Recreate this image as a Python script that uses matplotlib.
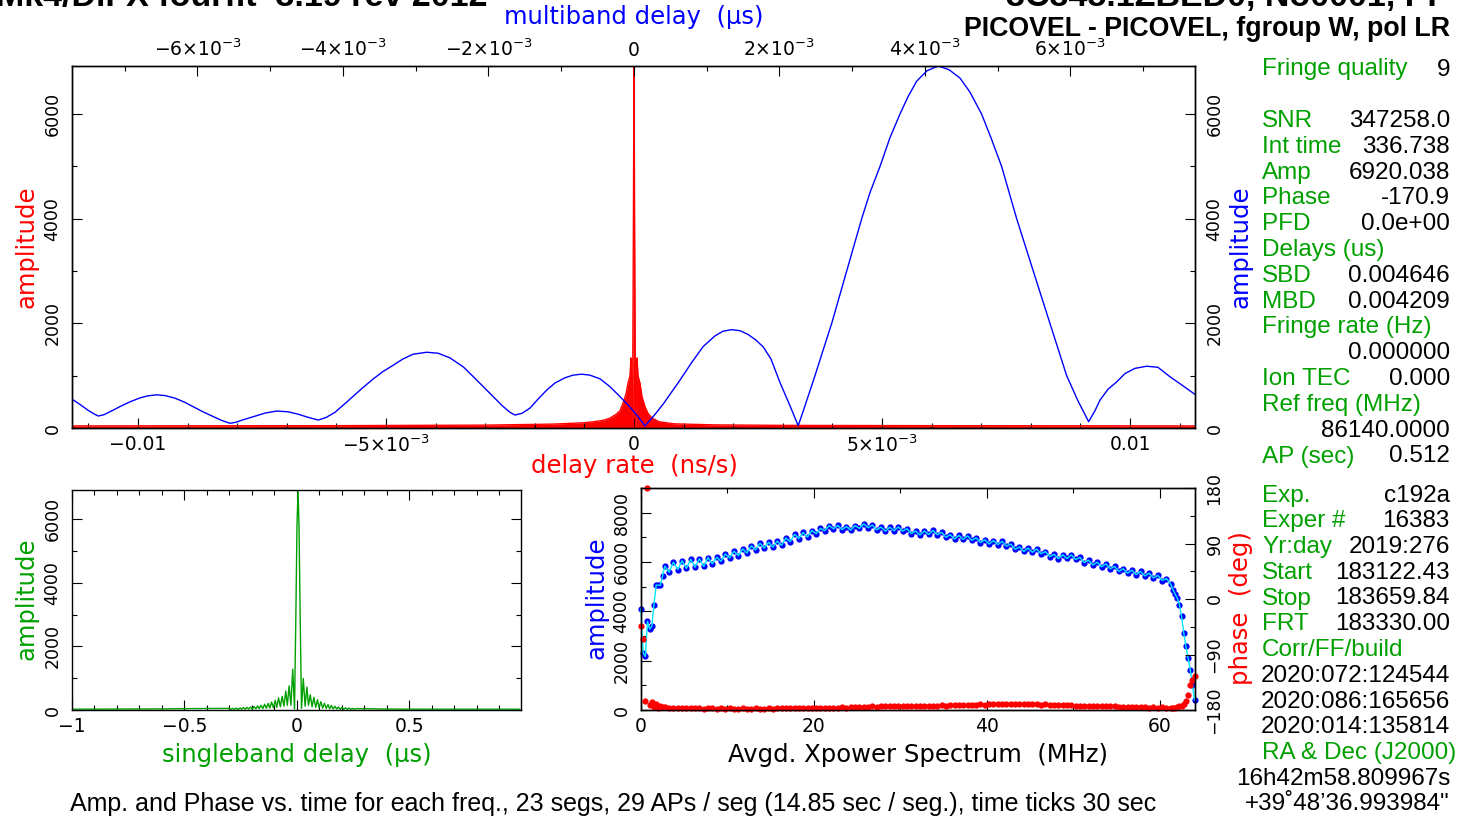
import numpy as np
import matplotlib
matplotlib.use('Agg')
import matplotlib.pyplot as plt
from matplotlib.ticker import MultipleLocator

# ---------------- data ----------------
# delay-rate function (red), delay rate in ns/s
rate_x = [-0.01133, -0.00605, -0.00302, -0.00161, -0.00101, -0.00081, -0.000605, -0.000484,
          -0.000363, -0.000282, -0.000222, -0.000161, -0.000121, -0.0000806, -0.0000605,
          -0.0000403, -0.00003, -0.000014, 0.0, 0.000014, 0.00003, 0.0000403, 0.0000605,
          0.0000806, 0.000121, 0.000161, 0.000222, 0.000282, 0.000363, 0.000504, 0.000806,
          0.00161, 0.00302, 0.00605, 0.01131]
rate_amp = [40, 45, 55, 75, 100, 120, 150, 190, 260, 330, 476, 650, 857, 1000, 1340, 200, 0,
            3500, 6920, 3500, 0, 200, 1340, 1000, 857, 600, 406, 280, 190, 120, 80, 60, 50, 45, 40]

# multiband delay function (blue), delay in microseconds
mbd_x = [-0.007725, -0.007615, -0.007505, -0.007423, -0.007364,
         -0.007285, -0.007175, -0.007065, -0.006928, -0.006791, -0.006681, -0.006561, -0.006447,
         -0.006309, -0.006172, -0.006058, -0.005925, -0.005801, -0.005677, -0.005553,
         -0.005471, -0.005388, -0.005233, -0.005072, -0.004911, -0.004756, -0.004619, -0.004481,
         -0.004340,
         -0.004234, -0.004110, -0.003945, -0.003766, -0.003601, -0.003450, -0.003309, -0.003175,
         -0.003038, -0.002850, -0.002694, -0.002529, -0.002346, -0.002172, -0.001979, -0.001814,
         -0.001705, -0.001636,
         -0.001540, -0.001430, -0.001320, -0.001200, -0.001086, -0.000948, -0.000839, -0.000719,
         -0.000605, -0.000467, -0.000330, -0.000192, -0.000055, 0.000055, 0.000151,
         0.000289, 0.000403, 0.000632, 0.000797, 0.000953, 0.001113, 0.001223, 0.001343,
         0.001457, 0.001567, 0.001677, 0.001777, 0.001883, 0.002007, 0.002131, 0.002258,
         0.002364, 0.002488, 0.002598, 0.002718, 0.002924, 0.003130, 0.003244, 0.003382,
         0.003519, 0.003656, 0.003766, 0.003886, 0.004028, 0.004183, 0.004330, 0.004481,
         0.004619, 0.004779, 0.004907, 0.005054, 0.005261, 0.005489, 0.005718, 0.005948,
         0.006103, 0.006250,
         0.006337, 0.006406, 0.006516, 0.006635, 0.006749, 0.006887, 0.007048, 0.007203,
         0.007368, 0.007533, 0.007712]
mbd_amp = [552, 450, 340, 270, 229,
           255, 330, 410, 500, 575, 615, 634, 620, 570, 490, 406, 310, 230, 150, 90,
           110, 150, 216, 285, 324, 310, 265, 205, 152,
           200, 300, 500, 724, 920, 1080, 1200, 1320, 1410, 1448, 1430, 1340, 1168, 930, 661,
           430, 300, 248,
           280, 380, 550, 724, 860, 960, 1010, 1029, 1010, 940, 790, 600, 400, 220, 38,
           260, 460, 914, 1260, 1560, 1760, 1850, 1880, 1860, 1790, 1680, 1549, 1320, 870, 470,
           44,
           480, 1000, 1480, 2000, 3000, 4000, 4500, 5000, 5550, 6000, 6330, 6630, 6830, 6920,
           6850, 6690, 6420, 6000, 5550, 5000, 4000, 3000, 2000, 1000, 520, 120,
           330, 533, 740, 880, 1040, 1140, 1181, 1160, 980, 820, 642]

# singleband delay function (green), microseconds
sbd_x = [-1.0, -0.8, -0.6, -0.45, -0.35, -0.300, -0.293, -0.285, -0.277, -0.269, -0.261, -0.253,
         -0.246, -0.238, -0.230, -0.222, -0.214, -0.206, -0.199, -0.191, -0.183, -0.175, -0.168,
         -0.160, -0.152, -0.144, -0.136, -0.128, -0.121, -0.113, -0.105, -0.097, -0.090, -0.082,
         -0.074, -0.066, -0.058, -0.050, -0.043, -0.035, -0.027, -0.019, -0.011, -0.005, 0.0,
         0.0046, 0.009, 0.014, 0.020, 0.028, 0.036, 0.044, 0.051, 0.059, 0.067, 0.075, 0.083,
         0.091, 0.098, 0.106, 0.114, 0.122, 0.130, 0.138, 0.145, 0.153, 0.161, 0.169, 0.177,
         0.184, 0.192, 0.200, 0.208, 0.216, 0.224, 0.231, 0.239, 0.247, 0.255, 0.263, 0.30,
         0.40, 0.60, 0.80, 0.99]
sbd_amp = [25, 30, 35, 45, 50, 50, 20, 55, 20, 60, 20, 65, 25, 75, 25, 85, 30, 95, 30, 110, 35,
           130, 40, 150, 45, 180, 55, 210, 60, 250, 70, 300, 80, 380, 100, 430, 120, 600, 150,
           760, 150, 1280, 30, 3000, 5800, 6920, 5800, 3000, 50, 990, 120, 720, 150, 480, 100,
           400, 80, 320, 70, 260, 60, 210, 50, 170, 40, 140, 35, 115, 30, 95, 25, 80, 25, 70, 20,
           60, 20, 50, 20, 45, 40, 30, 25, 25, 25]

# cross-power spectrum: frequency (MHz), amplitude, phase (deg)
freq = np.concatenate([np.arange(0, 2.51, 0.25), np.arange(2.75, 61.3, 0.5),
                       np.arange(61.5, 64.01, 0.25)])
spec_amp = [4095, 2305, 2170, 3590, 3280, 3400, 4270, 5060, 5060, 5060, 5450,
            5830, 5590, 5990, 5695, 6050, 5740, 6110, 5790, 6130, 5820,
            6180, 5930, 6190, 6030, 6320, 6165, 6435, 6260, 6530, 6365,
            6655, 6490, 6760, 6567, 6802, 6602, 6847, 6677, 6972, 6827,
            7122, 6952, 7197, 7012, 7277, 7147, 7362, 7272, 7477, 7347,
            7482, 7312, 7437, 7292, 7477, 7362, 7547, 7392, 7497, 7305,
            7415, 7250, 7410, 7267, 7422, 7250, 7350, 7152, 7257, 7092,
            7257, 7120, 7280, 7107, 7202, 7002, 7107, 6932, 7077, 6920,
            7060, 6880, 6980, 6787, 6902, 6730, 6870, 6705, 6835, 6642,
            6727, 6517, 6612, 6427, 6562, 6395, 6525, 6335, 6425, 6217,
            6312, 6137, 6292, 6142, 6287, 6102, 6187, 5977, 6072, 5877,
            5992, 5807, 5922, 5727, 5822, 5622, 5727, 5542, 5667, 5492,
            5617, 5435, 5545, 5352, 5457, 5250, 5330, 5100,
            4880, 4700, 4540, 4270, 3800, 3120, 2580, 2100, 1630, 1020, 410]
spec_phase = [-44, -65, -165, 180, -172, -167, -175, -171, -176, -173, -175,
              -175, -176, -176, -177, -176, -177, -177, -177, -177, -178,
              -177, -177, -178, -177, -178, -177, -178, -178, -177, -178,
              -178, -177, -178, -178, -177, -178, -177, -177, -177, -177,
              -177, -177, -176, -177, -176, -176, -176, -176, -176, -176,
              -176, -175, -176, -175, -175, -175, -175, -175, -174, -175,
              -174, -174, -174, -174, -174, -174, -173, -174, -173, -173,
              -173, -173, -173, -173, -172, -173, -172, -172, -172, -172,
              -172, -172, -172, -171, -172, -171, -171, -171, -171, -171,
              -171, -171, -171, -171, -171, -171, -171, -172, -171, -172,
              -172, -172, -172, -172, -172, -173, -173, -173, -173, -173,
              -174, -174, -174, -174, -174, -175, -175, -175, -175, -175,
              -175, -175, -176, -175, -176, -175, -176, -176,
              -176, -176, -175, -174, -173, -170, -165, -155, -140, -132, -125]

# tick labels
rate_ticks = [-0.01, -0.005, 0.0, 0.005, 0.01]
rate_ticklabels = ['\u22120.01', r'$-5{\times}10^{-3}$', '0', r'$5{\times}10^{-3}$', '0.01']
mbd_ticks = [-0.006, -0.004, -0.002, 0.0, 0.002, 0.004, 0.006]
mbd_ticklabels = [r'$-6{\times}10^{-3}$', r'$-4{\times}10^{-3}$', r'$-2{\times}10^{-3}$', '0',
                  r'$2{\times}10^{-3}$', r'$4{\times}10^{-3}$', r'$6{\times}10^{-3}$']
amp_ticks = [0, 2000, 4000, 6000]
amp_ticklabels = ['0', '2000', '4000', '6000']
sbd_ticks = [-1.0, -0.5, 0.0, 0.5]
sbd_ticklabels = ['\u22121', '\u22120.5', '0', '0.5']
spec_xticks = [0, 20, 40, 60]
spec_xticklabels = ['0', '20', '40', '60']
spec_yticks = [0, 2000, 4000, 6000, 8000]
spec_yticklabels = ['0', '2000', '4000', '6000', '8000']
phase_ticks = [-180, -90, 0, 90, 180]
phase_ticklabels = ['\u2212180', '\u221290', '0', '90', '180']

# fringe summary text
info_top = [("Fringe quality", "9"), ("", ""), ("SNR", "347258.0"), ("Int time", "336.738"),
            ("Amp", "6920.038"), ("Phase", "-170.9"), ("PFD", "0.0e+00"), ("Delays (us)", ""),
            ("SBD", "0.004646"), ("MBD", "0.004209"), ("Fringe rate (Hz)", ""),
            ("", "0.000000"), ("Ion TEC", "0.000"), ("Ref freq (MHz)", ""),
            ("", "86140.0000"), ("AP (sec)", "0.512")]
info_bottom = [("Exp.", "c192a"), ("Exper #", "16383"), ("Yr:day", "2019:276"),
               ("Start", "183122.43"), ("Stop", "183659.84"), ("FRT", "183330.00"),
               ("Corr/FF/build", ""), ("", "2020:072:124544"), ("", "2020:086:165656"),
               ("", "2020:014:135814"), ("RA & Dec (J2000)", ""), ("", "16h42m58.809967s"),
               ("", "+39\u02da48\u201936.993984\"")]

title_left = "Mk4/DiFX fourfit  3.19 rev 2012"
title_right1 = "3C345.1ZBED0, No0001, PP"
title_right2 = "PICOVEL - PICOVEL, fgroup W, pol LR"
caption = ("Amp. and Phase vs. time for each freq., 23 segs, 29 APs / seg "
           "(14.85 sec / seg.), time ticks 30 sec")

# ---------------- drawing ----------------
W, H = 1470, 816
fig = plt.figure(figsize=(14.7, 8.16), dpi=100)
fig.patch.set_facecolor('white')

RED = '#ff0000'
BLUE = '#0000ff'
GREEN = '#00a000'
CYAN = '#00e8ff'
PLOTFONT = 'DejaVu Sans'
INFOFONT = 'Liberation Sans'
LABFS = 17.5


def fx(x):
    return x / W


def fy(y):
    return 1 - y / H


def rect(l, t, r, b):
    return [fx(l), fy(b), (r - l) / W, (b - t) / H]


def style(a):
    a.tick_params(which='both', direction='in', colors='black', width=0.8)
    a.tick_params(which='major', length=7)
    a.tick_params(which='minor', length=3.5)
    for s in a.spines.values():
        s.set_linewidth(1.0)


def ytick_setup(a, ticks, labels, pad=7.5):
    a.set_yticks(ticks)
    a.set_yticklabels(labels, rotation=90, va='center', fontsize=12.5, family=PLOTFONT)
    a.tick_params(axis='y', pad=pad)


def xtick_setup(a, ticks, labels, fs=13.5, pad=5):
    a.set_xticks(ticks)
    a.set_xticklabels(labels, fontsize=fs, family=PLOTFONT)
    a.tick_params(axis='x', pad=pad)


# ---- top panel: delay rate / multiband delay ----
ax = fig.add_axes(rect(72, 66, 1195, 428))
style(ax)
ax.fill_between(rate_x, 0, rate_amp, color=RED, lw=0)
ax.plot(rate_x, rate_amp, color=RED, lw=1.0)
ax.set_xlim(-0.01133, 0.01131)
ax.set_ylim(0, 6920)
xtick_setup(ax, rate_ticks, rate_ticklabels)
ax.xaxis.set_minor_locator(MultipleLocator(0.001))
ytick_setup(ax, amp_ticks, amp_ticklabels)
ax.yaxis.set_minor_locator(MultipleLocator(1000))
ax.tick_params(axis='y', which='both', left=True, right=True, labelleft=True, labelright=True)

ax2 = ax.twiny()
style(ax2)
ax2.plot(mbd_x, mbd_amp, color=BLUE, lw=1.0)
ax2.set_xlim(-0.007725, 0.007712)
xtick_setup(ax2, mbd_ticks, mbd_ticklabels, pad=4)
ax2.xaxis.set_minor_locator(MultipleLocator(0.001))
ax2.tick_params(axis='x', which='both', top=True, bottom=False, labeltop=True, labelbottom=False)
ax.tick_params(axis='x', which='both', top=False, bottom=True)

fig.text(fx(27), fy(247), 'amplitude', color=RED, rotation=90, ha='center', va='center',
         fontsize=LABFS, family=PLOTFONT)
fig.text(fx(1240), fy(247), 'amplitude', color=BLUE, rotation=90, ha='center', va='center',
         fontsize=LABFS, family=PLOTFONT)
fig.text(fx(634), fy(466), 'delay rate  (ns/s)', color=RED, ha='center', va='center',
         fontsize=LABFS, family=PLOTFONT)
fig.text(fx(634), fy(17), 'multiband delay  (\u03bcs)', color=BLUE, ha='center', va='center',
         fontsize=LABFS, family=PLOTFONT)

# ---- bottom left: singleband delay ----
ax3 = fig.add_axes(rect(72, 490, 521, 710))
style(ax3)
ax3.plot(sbd_x, sbd_amp, color=GREEN, lw=1.0)
ax3.set_xlim(-1.0, 0.9956)
ax3.set_ylim(0, 6920)
xtick_setup(ax3, sbd_ticks, sbd_ticklabels)
ax3.xaxis.set_minor_locator(MultipleLocator(0.1))
ytick_setup(ax3, amp_ticks, amp_ticklabels)
ax3.yaxis.set_minor_locator(MultipleLocator(1000))
ax3.tick_params(which='both', top=True, right=True)
fig.text(fx(27), fy(599), 'amplitude', color=GREEN, rotation=90, ha='center', va='center',
         fontsize=LABFS, family=PLOTFONT)
fig.text(fx(297), fy(755), 'singleband delay  (\u03bcs)', color=GREEN, ha='center',
         va='center', fontsize=LABFS, family=PLOTFONT)

# ---- bottom right: cross-power spectrum ----
ax4 = fig.add_axes(rect(641, 488, 1195, 710))
style(ax4)
ax4.plot(freq, spec_amp, 'o', color=BLUE, ms=4.5, mew=0, clip_on=False, zorder=2)
ax4.plot(freq, spec_amp, color=CYAN, lw=1.0, clip_on=False, zorder=3)
ax4.set_xlim(0, 64.05)
ax4.set_ylim(0, 9000)
xtick_setup(ax4, spec_xticks, spec_xticklabels)
ax4.xaxis.set_minor_locator(MultipleLocator(10))
ytick_setup(ax4, spec_yticks, spec_yticklabels)
ax4.yaxis.set_minor_locator(MultipleLocator(1000))
ax4.tick_params(which='both', top=True, right=False)

ax5 = ax4.twinx()
style(ax5)
ax5.plot(freq, spec_phase, 'o', color=RED, ms=4.5, mew=0, clip_on=False)
ax5.set_ylim(-180, 180)
ytick_setup(ax5, phase_ticks, phase_ticklabels)
ax5.yaxis.set_minor_locator(MultipleLocator(45))
ax5.tick_params(axis='y', which='both', left=False, right=True)

fig.text(fx(596), fy(598), 'amplitude', color=BLUE, rotation=90, ha='center', va='center',
         fontsize=LABFS, family=PLOTFONT)
fig.text(fx(1241), fy(608), 'phase  (deg)', color=RED, rotation=90, ha='center', va='center',
         fontsize=LABFS, family=PLOTFONT)
fig.text(fx(918), fy(755), 'Avgd. Xpower Spectrum  (MHz)', color='black', ha='center',
         va='center', fontsize=LABFS, family=PLOTFONT)

# ---- header (partly above the top edge, as in the original) ----
fig.text(fx(-4), fy(6), title_left, ha='left', va='baseline', fontsize=24.5,
         fontweight='bold', family=INFOFONT)
fig.text(fx(1450), fy(6), title_right1, ha='right', va='baseline', fontsize=24.5,
         fontweight='bold', family=INFOFONT)
fig.text(fx(1450), fy(36), title_right2, ha='right', va='baseline', fontsize=19.3,
         fontweight='bold', family=INFOFONT)

# ---- fringe summary ----
INFO_FS = 17.5
BASE = 8.5
for i, (lab, val) in enumerate(info_top):
    y = 67 + i * 25.8 + BASE
    if lab:
        fig.text(fx(1262), fy(y), lab, color=GREEN, ha='left', va='baseline',
                 fontsize=INFO_FS, family=INFOFONT)
    if val:
        fig.text(fx(1450), fy(y), val, color='black', ha='right', va='baseline',
                 fontsize=INFO_FS, family=INFOFONT)
for i, (lab, val) in enumerate(info_bottom):
    y = 493 + i * 25.75 + BASE
    if lab:
        fig.text(fx(1262), fy(y), lab, color=GREEN, ha='left', va='baseline',
                 fontsize=INFO_FS, family=INFOFONT)
    if val:
        fig.text(fx(1450), fy(y), val, color='black', ha='right', va='baseline',
                 fontsize=INFO_FS, family=INFOFONT)

fig.text(fx(70), fy(803 + BASE), caption, color='black', ha='left', va='baseline',
         fontsize=18, family=INFOFONT)

fig.savefig('out.png', dpi=100, facecolor='white')
